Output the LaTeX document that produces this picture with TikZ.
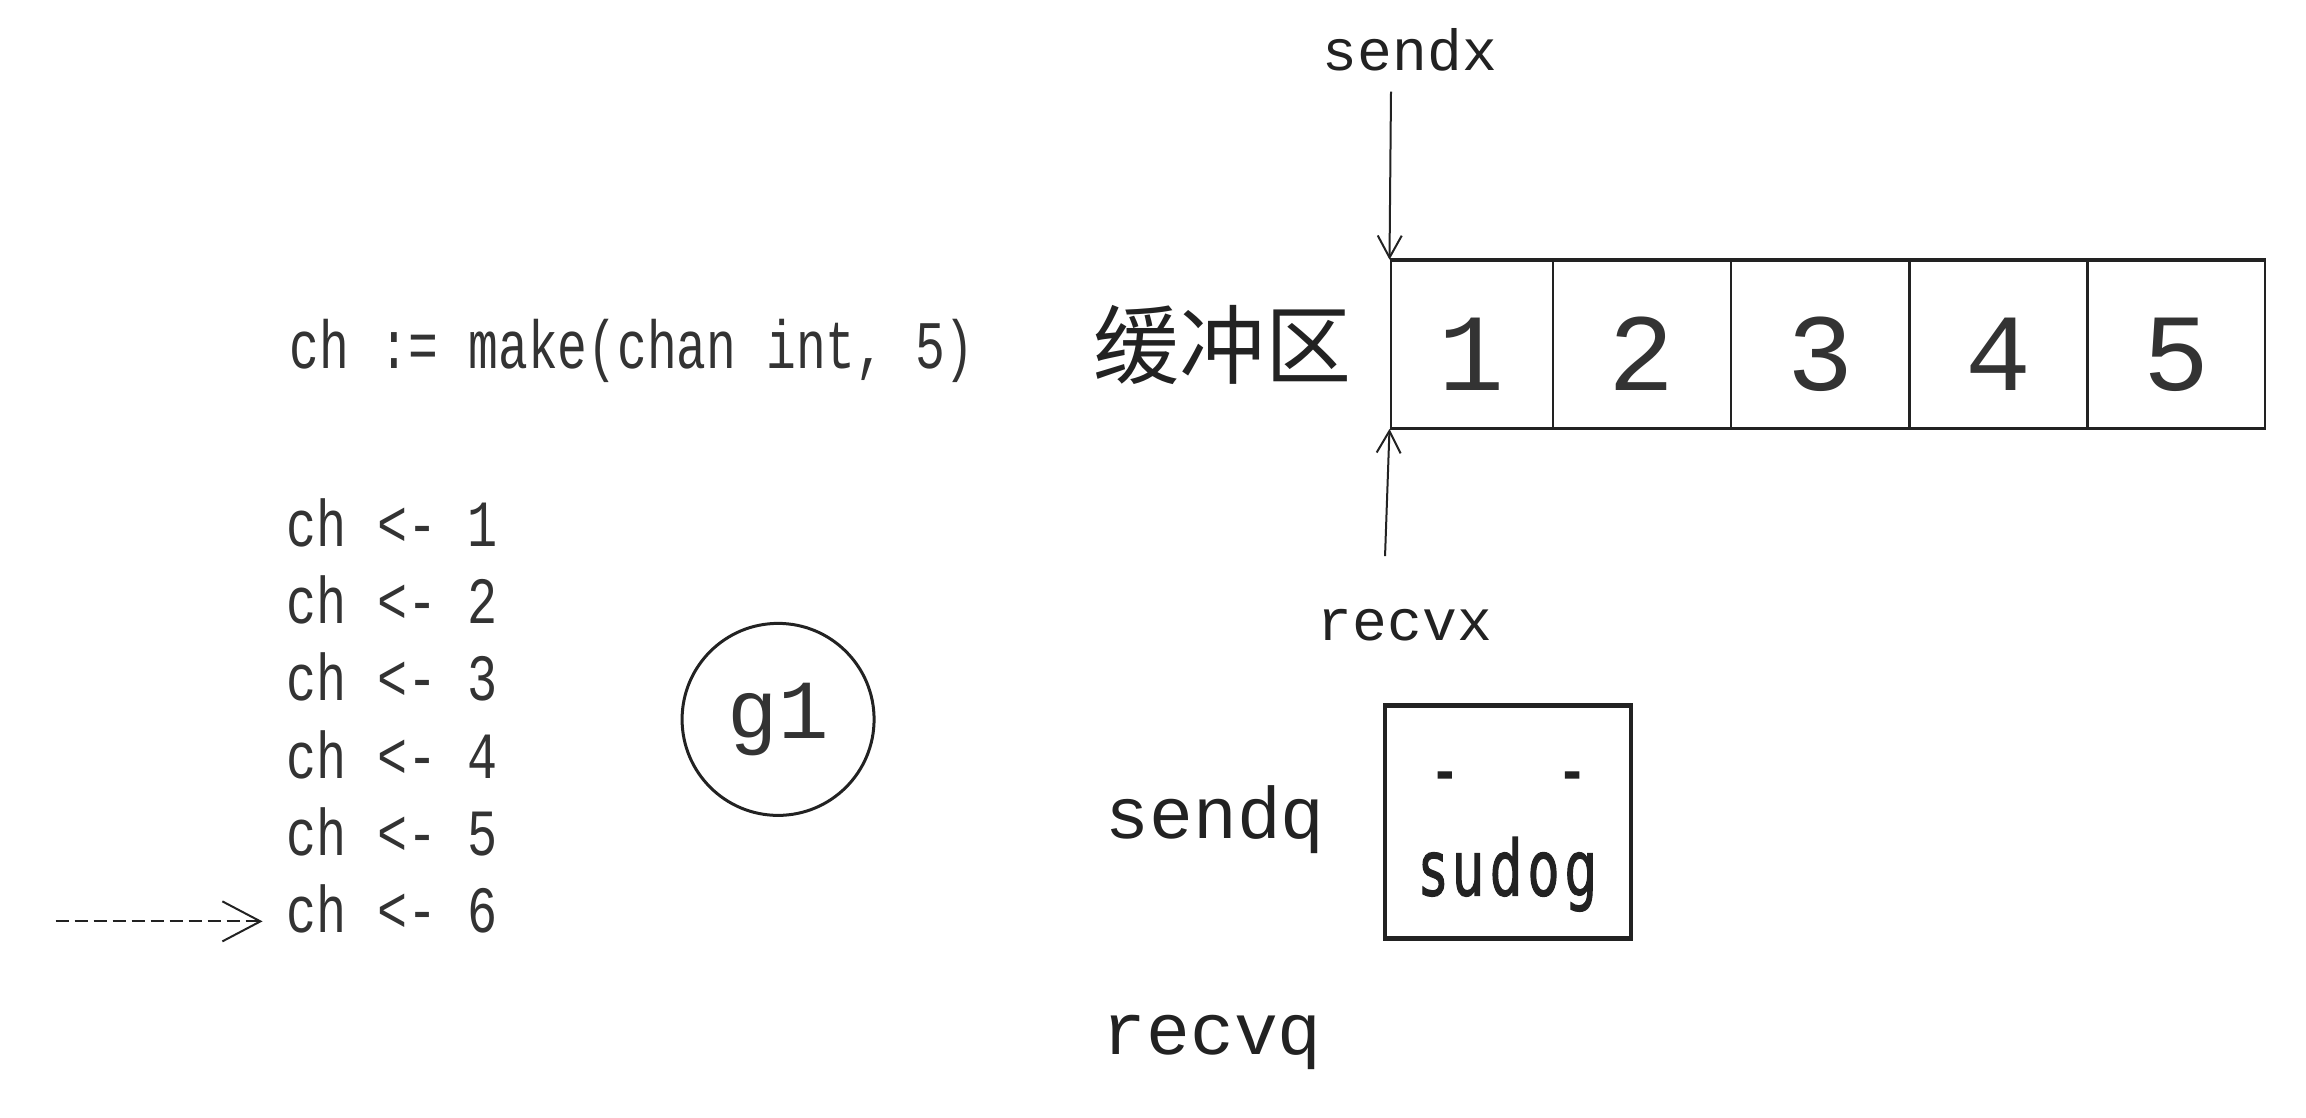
\documentclass[tikz,border=0pt]{standalone}
\usepackage{fontspec}
\setmonofont{DejaVu Sans Mono}
\newfontfamily\chfont[FakeStretch=0.76]{Liberation Mono}
\newfontfamily\mkfont[FakeStretch=0.73]{Liberation Mono}
\newfontfamily\cour{Liberation Mono}
\newfontfamily\cjk{Noto Sans CJK SC}
\newfontfamily\sudfont[FakeStretch=0.65,FakeBold=1.5,LetterSpace=8]{DejaVu Sans}
\usetikzlibrary{arrows.meta}
\definecolor{ink}{HTML}{222222}
\definecolor{soft}{HTML}{333333}
\begin{document}
\begin{tikzpicture}[x=0.995pt,y=-0.995pt,
  mtext/.style={inner sep=0pt, text=ink},
  code/.style={mtext, font=\chfont\fontsize{66}{78}\selectfont, text=soft, anchor=base west},
  lab/.style={mtext, font=\cour\fontsize{58}{70}\selectfont, anchor=base},
  qlab/.style={mtext, font=\cour\fontsize{73}{88}\selectfont, anchor=base west},
  cell/.style={draw=ink, line width=2.2pt, minimum height=167pt, inner sep=0pt,
    text height=92pt, text depth=0pt, font=\cour\fontsize{110}{120}\selectfont, text=soft},
  arr/.style={-{Straight Barb[length=22pt,width=24pt,line width=2pt]}, line width=2pt, draw=ink},
  sud/.style={mtext, font=\sudfont\fontsize{77}{90}\selectfont, anchor=base}]
\useasboundingbox (0,0) rectangle (2317.6,1123.6);

% code
\node[code, font=\mkfont\fontsize{68}{80}\selectfont] (mk) at (291,370) {ch := make(chan int, 5)};
\foreach \i/\y in {1/549,2/627,3/704,4/782,5/860,6/937}
  \node[code] (ch\i) at (288,\y) {ch <- \i};
\coordinate (ds) at (56,926);
\draw[line width=2pt, draw=ink, dash pattern=on 13pt off 6pt,
  -{Straight Barb[length=38pt,width=40pt,line width=2pt]}, shorten >=24pt]
  (ds) -- (ds -| ch6.west);

% goroutine
\node[circle, draw=ink, line width=3pt, minimum size=192pt, inner sep=0pt,
  font=\cour\fontsize{84}{96}\selectfont, text=soft] (g1) at (782,723) {g1};

% buffer
\node[mtext, font=\cjk\fontsize{86}{100}\selectfont] (buf) at (1229,347) {缓冲区};
\node[cell, minimum width=162pt] (c1) at (1479,346) {1};
\node[cell, minimum width=178pt] (c2) at (1650,346) {2};
\node[cell, minimum width=178pt] (c3) at (1829.5,346) {3};
\node[cell, minimum width=178pt] (c4) at (2008.5,346) {4};
\node[cell, minimum width=178pt] (c5) at (2187,346) {5};
\draw[ink, line width=3pt] (c1.north west) -- (c5.north east);
\draw[ink, line width=3pt] (c1.south west) -- (c5.south east);

\node[lab] (sx) at (1417,71) {sendx};
\coordinate (sxs) at (1398,92);
\draw[arr] (sxs) -- (c1.north west);
\node[lab] (rx) at (1412,644) {recvx};
\coordinate (rxs) at (1392,559);
\draw[arr] (rxs) -- (c1.south west);

% queues
\node[qlab] (sq) at (1111,843) {sendq};
\node[qlab] (rq) at (1108,1060) {recvq};
\node[draw=ink, line width=4.5pt, minimum width=246pt, minimum height=233pt, inner sep=0pt] (sd) at (1515.5,826) {};
\node[sud] (sdt) at (1516,900) {sudog};
\node[sud] (d1) at (1452,800) {-};
\node[sud] (d2) at (1580,800) {-};
\end{tikzpicture}
\end{document}
